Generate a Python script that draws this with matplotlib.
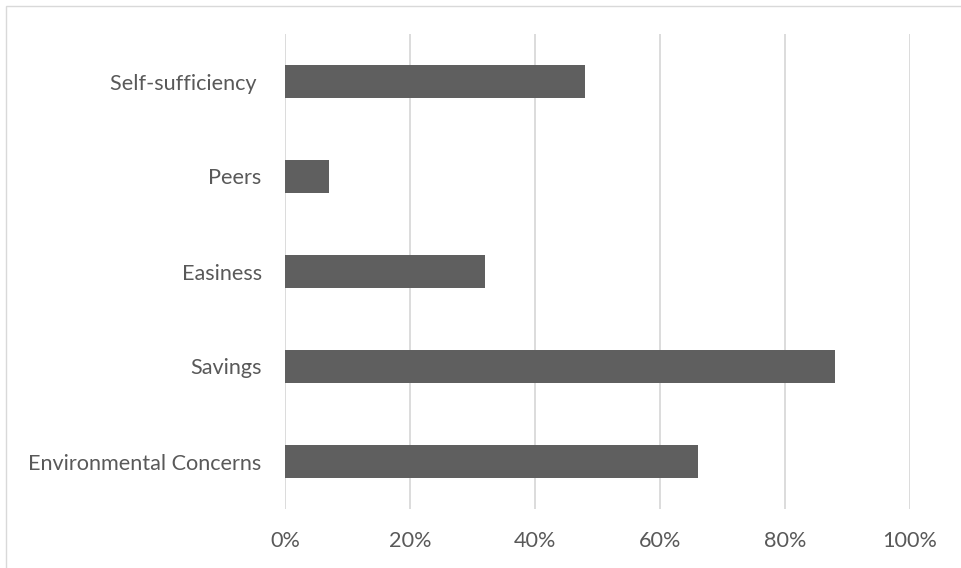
import matplotlib
matplotlib.use("Agg")
import matplotlib.pyplot as plt
from matplotlib.patches import Rectangle

categories = ["Environmental Concerns", "Savings", "Easiness", "Peers", "Self-sufficiency "]
values = [66, 88, 32, 7, 48]
xticks = [0, 20, 40, 60, 80, 100]
xtick_labels = ["0%", "20%", "40%", "60%", "80%", "100%"]

plt.rcParams['font.family'] = ['Lato', 'DejaVu Sans']

fig = plt.figure(figsize=(9.61, 5.68), dpi=100)
W, H = 961, 568
ax = fig.add_axes([285.3 / W, 1 - 509 / H, (910 - 285.3) / W, (509 - 34) / H])

ypos = list(range(len(categories)))
ax.barh(ypos, values, height=0.35, color="#5f5f5f", zorder=3)
ax.set_ylim(-0.5, len(categories) - 0.5)
ax.set_xlim(0, 100)
ax.set_xticks(xticks)
ax.set_xticklabels(xtick_labels)
ax.set_yticks(ypos)
ax.set_yticklabels(categories)
ax.tick_params(axis='both', length=0, labelsize=15.6, colors="#595959")
ax.tick_params(axis='y', pad=17)
ax.tick_params(axis='x', pad=15.5)
ax.grid(axis='x', color="#d9d9d9", linewidth=1.3, zorder=0)
ax.grid(axis='y', visible=False)
for s in ax.spines.values():
    s.set_visible(False)

fig.patches.append(Rectangle((6 / W, -0.1), 1.2, 1 - 6 / H + 0.1, transform=fig.transFigure,
                             fill=False, edgecolor="#d9d9d9", linewidth=1.0))

fig.savefig("out.png", dpi=100)
